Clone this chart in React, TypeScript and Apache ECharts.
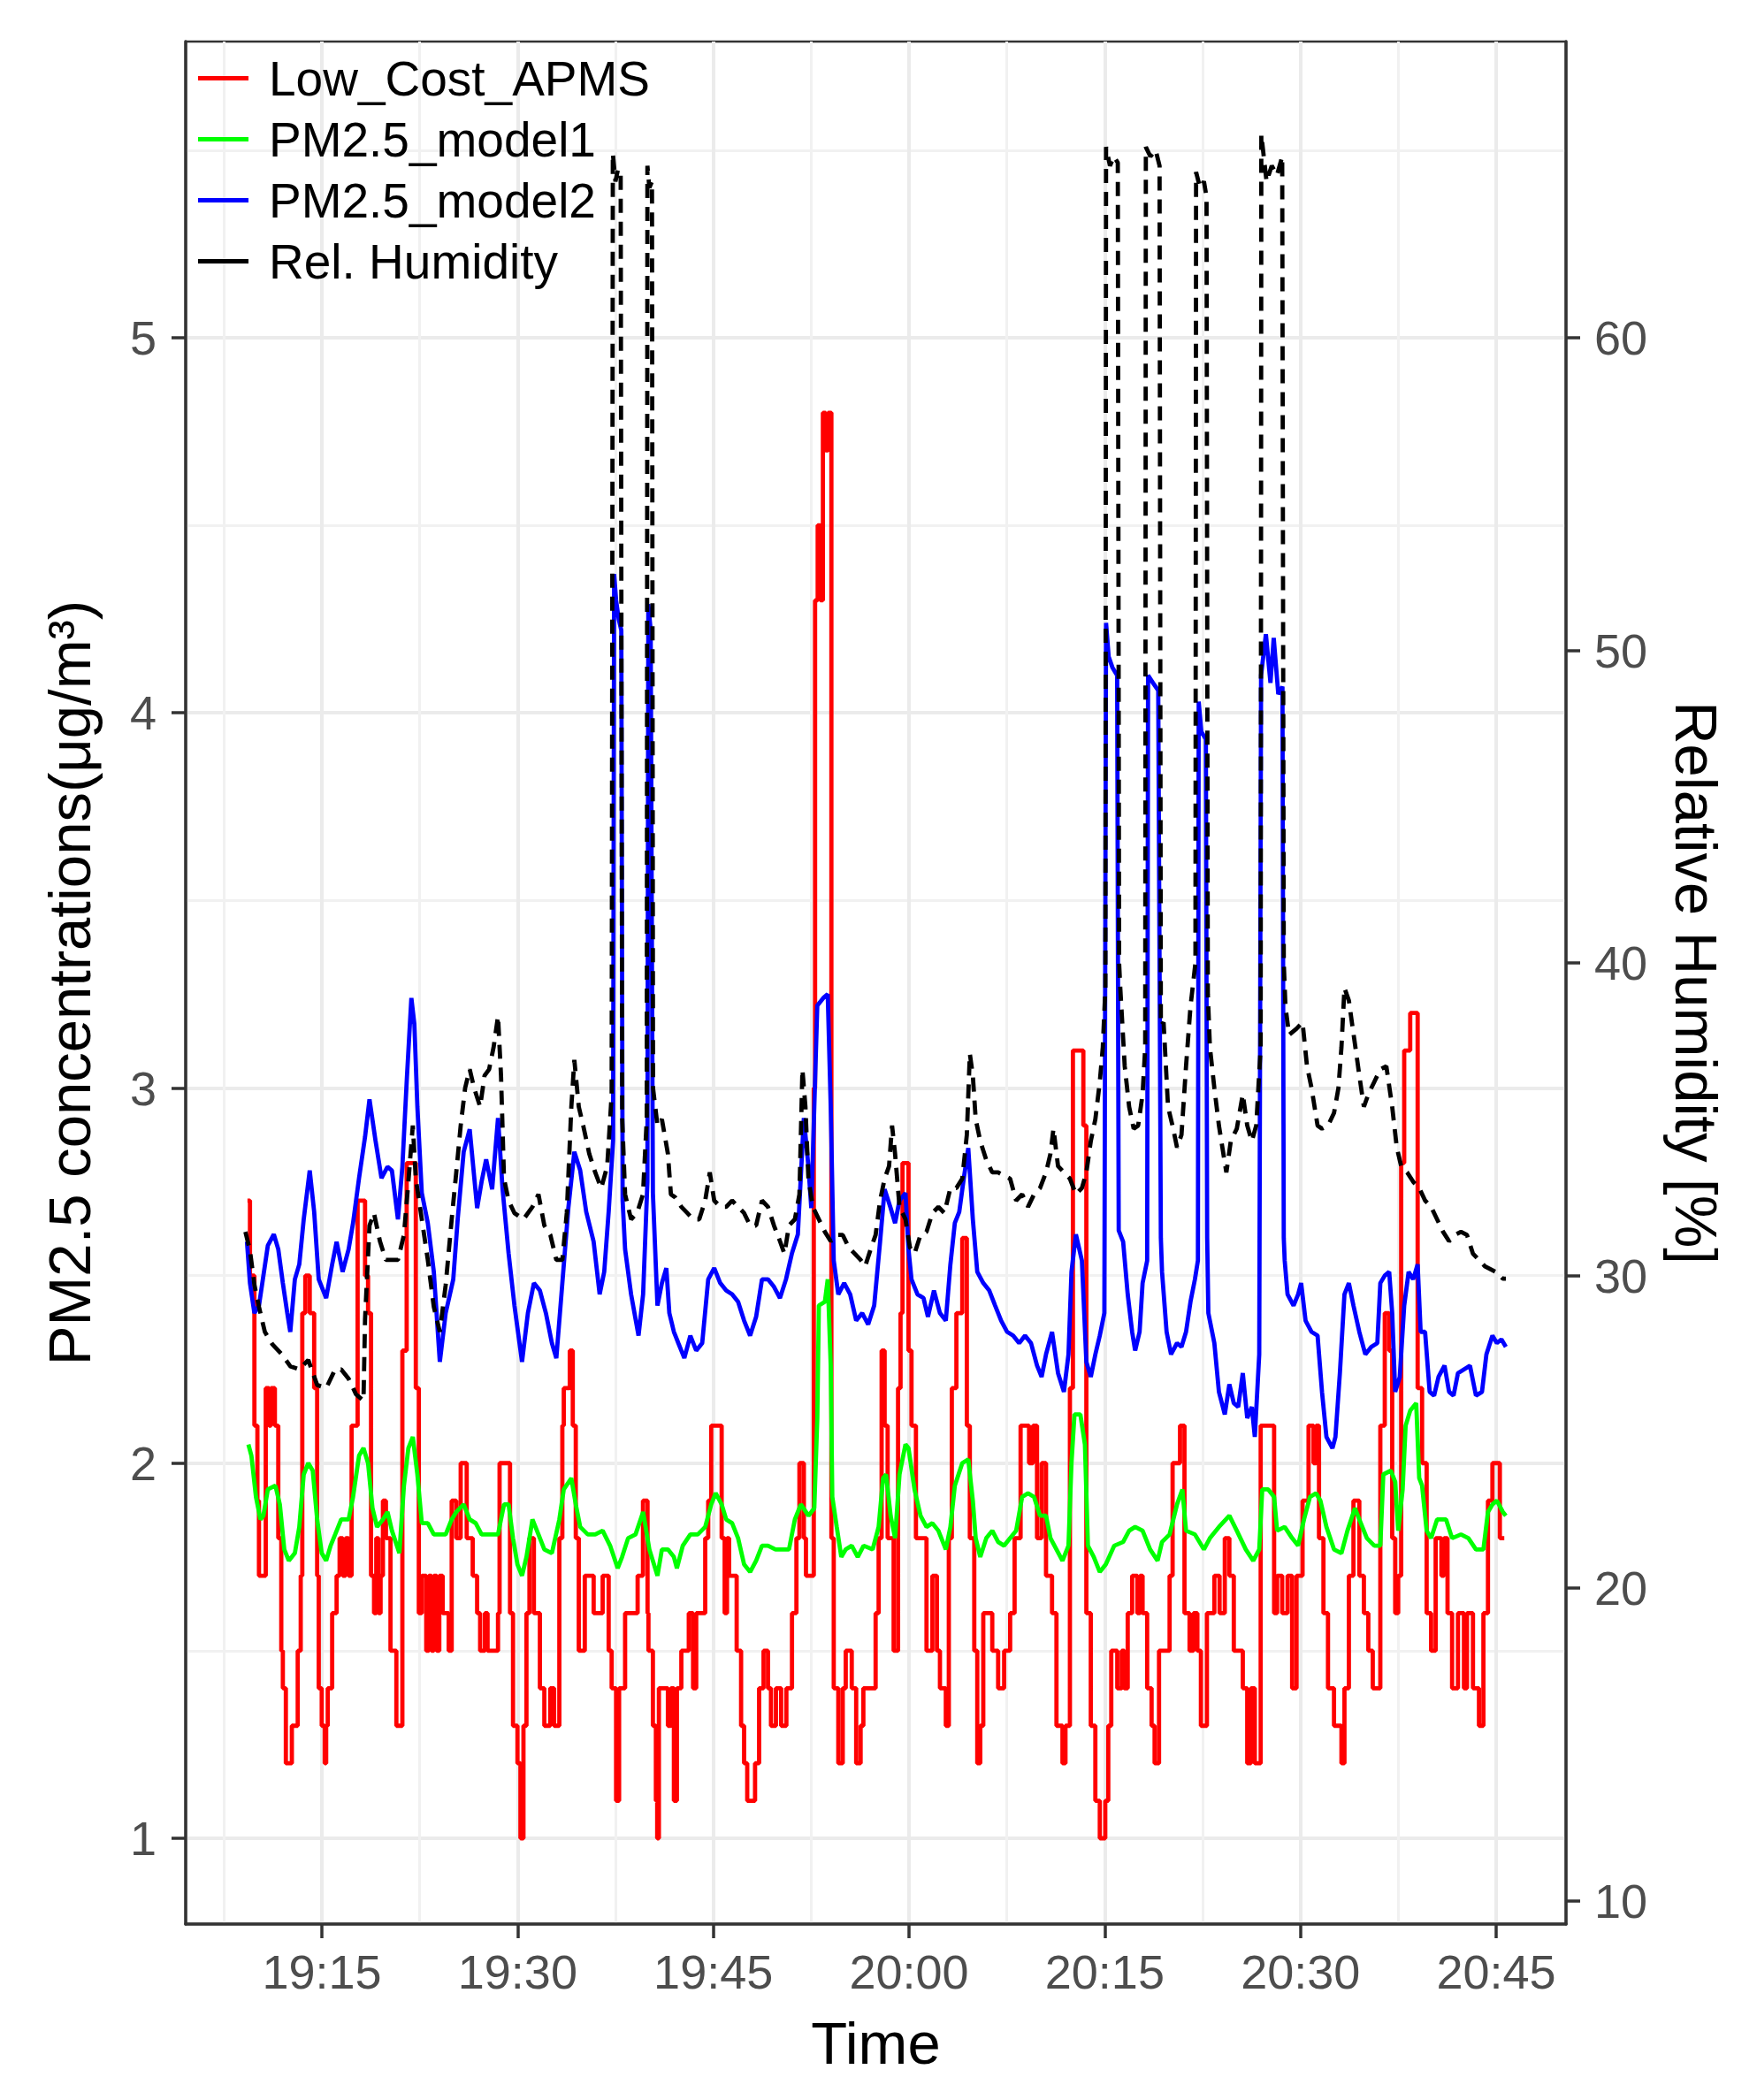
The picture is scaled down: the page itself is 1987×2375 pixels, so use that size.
import React, { useEffect, useRef } from "react";
import * as echarts from "echarts";

// Time is expressed in minutes after 19:00.
const lowCostApms: [number, number][] = [
  [9.3,2.7],[9.49,2.5],[9.83,2.1],[10.06,1.9],[10.18,1.7],[10.7,2.2],[10.95,2.1],[11.1,2.2],[11.4,2.1],[11.66,1.8],[11.89,1.5],[12.01,1.4],[12.24,1.2],[12.7,1.3],[13.15,1.5],[13.38,1.7],[13.5,2.4],[13.73,2.5],[14.07,2.4],[14.41,2.2],[14.64,1.7],[14.76,1.4],[14.99,1.3],[15.22,1.2],[15.33,1.3],[15.45,1.4],[15.79,1.6],[16.13,1.7],[16.36,1.8],[16.6,1.7],[16.82,1.8],[17.05,1.7],[17.28,2.1],[17.74,2.7],[18.31,2.5],[18.54,2.4],[18.77,1.7],[19.0,1.6],[19.17,1.8],[19.34,1.6],[19.5,1.7],[19.68,1.9],[19.91,1.8],[20.26,1.5],[20.71,1.3],[21.17,2.3],[21.5,2.8],[22.2,2.2],[22.43,1.6],[22.66,1.7],[23.0,1.5],[23.2,1.7],[23.4,1.5],[23.58,1.7],[23.8,1.5],[24.0,1.7],[24.26,1.6],[24.72,1.5],[24.95,1.9],[25.3,1.8],[25.64,2.0],[26.1,1.8],[26.56,1.7],[26.9,1.6],[27.13,1.5],[27.5,1.6],[27.7,1.5],[28.5,1.6],[28.62,2.0],[29.42,1.6],[29.65,1.3],[29.99,1.2],[30.22,1.0],[30.45,1.3],[30.68,1.6],[30.91,1.8],[31.25,1.6],[31.71,1.4],[32.05,1.3],[32.5,1.4],[32.8,1.3],[33.2,1.8],[33.43,2.1],[33.54,2.2],[34.0,2.3],[34.23,2.1],[34.46,1.8],[34.69,1.5],[35.15,1.7],[35.83,1.6],[36.52,1.7],[36.98,1.5],[37.21,1.4],[37.55,1.1],[37.78,1.4],[38.24,1.6],[39.2,1.7],[39.61,1.9],[39.96,1.6],[40.03,1.5],[40.37,1.3],[40.6,1.1],[40.7,1.0],[40.83,1.4],[41.52,1.3],[41.75,1.4],[41.98,1.1],[42.21,1.4],[42.55,1.5],[43.12,1.6],[43.45,1.4],[43.69,1.6],[44.38,1.8],[44.61,1.9],[44.84,2.1],[45.64,1.8],[45.87,1.6],[46.05,1.8],[46.21,1.7],[46.79,1.5],[47.13,1.3],[47.36,1.2],[47.6,1.1],[48.2,1.2],[48.51,1.4],[48.85,1.5],[49.19,1.4],[49.42,1.3],[49.8,1.4],[50.2,1.3],[50.6,1.4],[51.03,1.6],[51.37,1.8],[51.6,2.0],[51.94,1.8],[52.1,1.7],[52.7,3.0],[52.8,4.3],[53.0,4.5],[53.2,4.3],[53.4,4.8],[53.6,4.7],[53.8,4.8],[54.05,1.8],[54.23,1.4],[54.58,1.2],[54.92,1.4],[55.15,1.5],[55.61,1.4],[55.95,1.2],[56.29,1.3],[56.5,1.4],[57.44,1.6],[57.67,1.8],[57.9,2.3],[58.13,2.1],[58.36,1.8],[58.82,1.5],[59.16,2.2],[59.35,2.4],[59.5,2.8],[59.96,2.3],[60.19,2.1],[60.53,1.8],[61.34,1.5],[61.79,1.7],[62.14,1.5],[62.37,1.4],[62.82,1.3],[63.05,1.8],[63.28,2.2],[63.63,2.4],[64.08,2.6],[64.43,2.1],[64.66,1.8],[65.0,1.5],[65.23,1.2],[65.46,1.3],[65.69,1.6],[66.38,1.5],[66.83,1.4],[67.29,1.5],[67.75,1.6],[68.09,1.8],[68.55,2.1],[69.2,2.0],[69.5,2.1],[69.81,1.8],[70.16,2.0],[70.5,1.7],[70.96,1.6],[71.3,1.3],[71.76,1.2],[71.99,1.3],[72.33,2.2],[72.56,3.1],[73.36,2.9],[73.59,1.6],[73.93,1.3],[74.28,1.1],[74.62,1.0],[75.04,1.1],[75.27,1.3],[75.5,1.5],[75.96,1.4],[76.3,1.5],[76.5,1.4],[76.76,1.6],[77.1,1.7],[77.5,1.6],[77.7,1.7],[77.9,1.6],[78.25,1.4],[78.59,1.3],[78.82,1.2],[79.16,1.5],[79.97,1.7],[80.2,2.0],[80.77,2.1],[81.11,1.6],[81.5,1.5],[81.8,1.6],[82.1,1.5],[82.37,1.3],[82.83,1.6],[83.4,1.7],[83.8,1.6],[84.2,1.8],[84.55,1.7],[84.89,1.5],[85.58,1.4],[85.92,1.2],[86.2,1.4],[86.5,1.2],[86.95,2.1],[87.98,1.6],[88.21,1.7],[88.6,1.6],[89.01,1.7],[89.36,1.4],[89.7,1.7],[90.16,1.9],[90.62,2.1],[91.0,2.0],[91.2,2.1],[91.42,1.8],[91.76,1.6],[92.11,1.4],[92.57,1.3],[93.14,1.2],[93.37,1.4],[93.71,1.7],[94.06,1.9],[94.51,1.7],[94.86,1.6],[95.2,1.5],[95.54,1.4],[96.12,2.1],[96.46,2.4],[96.8,2.3],[97.03,1.8],[97.26,1.6],[97.49,1.7],[97.72,2.8],[97.95,3.1],[98.41,3.2],[98.98,2.2],[99.32,2.0],[99.67,1.6],[100.01,1.5],[100.36,1.8],[100.8,1.7],[101.0,1.8],[101.27,1.6],[101.62,1.4],[102.07,1.6],[102.53,1.4],[102.76,1.6],[103.22,1.4],[103.68,1.3],[104.02,1.6],[104.37,1.9],[104.71,2.0],[105.28,1.8],[105.62,1.8]
];

const pmModel1: [number, number][] = [
  [9.37,2.05],[9.6,2.02],[9.95,1.91],[10.29,1.85],[10.52,1.86],[10.86,1.93],[11.44,1.94],[11.78,1.89],[12.12,1.77],[12.47,1.74],[12.93,1.76],[13.27,1.83],[13.61,1.97],[13.96,2.0],[14.3,1.98],[14.64,1.85],[14.99,1.76],[15.33,1.74],[15.67,1.78],[16.02,1.81],[16.48,1.85],[17.05,1.85],[17.39,1.91],[17.85,2.02],[18.19,2.04],[18.54,2.0],[18.88,1.88],[19.23,1.83],[19.68,1.85],[20.03,1.87],[20.37,1.82],[20.94,1.76],[21.29,1.94],[21.63,2.04],[21.97,2.07],[22.32,1.97],[22.66,1.84],[23.12,1.84],[23.58,1.81],[24.04,1.81],[24.49,1.81],[24.95,1.85],[25.3,1.87],[25.87,1.89],[26.33,1.85],[26.79,1.84],[27.24,1.81],[27.93,1.81],[28.5,1.81],[28.96,1.89],[29.31,1.89],[29.65,1.8],[29.99,1.73],[30.34,1.7],[30.68,1.75],[31.14,1.85],[31.6,1.81],[32.05,1.77],[32.63,1.76],[33.2,1.85],[33.54,1.93],[34.12,1.96],[34.46,1.89],[34.8,1.83],[35.38,1.81],[35.95,1.81],[36.52,1.82],[37.09,1.78],[37.67,1.72],[38.01,1.75],[38.47,1.8],[39.04,1.81],[39.62,1.87],[40.1,1.77],[40.72,1.7],[41.06,1.77],[41.52,1.77],[41.98,1.75],[42.21,1.72],[42.66,1.78],[43.24,1.81],[43.81,1.81],[44.38,1.83],[44.84,1.89],[45.18,1.92],[45.64,1.89],[45.99,1.85],[46.44,1.84],[46.9,1.8],[47.36,1.73],[47.82,1.71],[48.28,1.74],[48.73,1.78],[49.19,1.78],[49.77,1.77],[50.34,1.77],[50.8,1.77],[51.25,1.85],[51.71,1.89],[52.29,1.86],[52.74,1.88],[52.97,2.12],[53.09,2.42],[53.55,2.43],[53.77,2.49],[54.0,2.26],[54.12,1.91],[54.46,1.83],[54.81,1.75],[55.15,1.77],[55.61,1.78],[56.07,1.75],[56.52,1.78],[57.21,1.77],[57.67,1.83],[58.01,1.96],[58.24,1.97],[58.59,1.86],[58.93,1.8],[59.27,1.97],[59.73,2.05],[59.96,2.04],[60.42,1.93],[60.88,1.86],[61.34,1.83],[61.79,1.84],[62.25,1.82],[62.82,1.77],[63.17,1.83],[63.51,1.94],[64.08,2.0],[64.54,2.01],[64.89,1.9],[65.11,1.8],[65.46,1.75],[65.92,1.8],[66.38,1.82],[66.83,1.79],[67.29,1.78],[67.75,1.8],[68.21,1.82],[68.67,1.91],[69.12,1.92],[69.58,1.91],[70.04,1.86],[70.5,1.86],[70.84,1.8],[71.3,1.77],[71.76,1.74],[72.22,1.78],[72.45,2.0],[72.68,2.13],[73.13,2.13],[73.48,2.05],[73.71,1.78],[74.16,1.75],[74.62,1.71],[75.08,1.73],[75.73,1.78],[76.41,1.79],[76.87,1.82],[77.33,1.83],[77.9,1.82],[78.48,1.77],[79.05,1.74],[79.39,1.79],[79.97,1.81],[80.54,1.89],[80.95,1.93],[81.23,1.82],[81.91,1.81],[82.6,1.77],[83.06,1.8],[83.75,1.83],[84.55,1.86],[85.12,1.82],[85.81,1.77],[86.38,1.74],[86.84,1.77],[87.07,1.93],[87.53,1.93],[87.98,1.91],[88.21,1.82],[88.79,1.83],[89.36,1.8],[89.82,1.78],[90.27,1.85],[90.73,1.91],[91.19,1.92],[91.53,1.9],[91.99,1.83],[92.57,1.77],[93.14,1.76],[93.6,1.82],[94.17,1.88],[94.51,1.85],[95.09,1.8],[95.66,1.78],[96.12,1.78],[96.35,1.97],[96.92,1.98],[97.26,1.95],[97.49,1.82],[97.83,1.93],[98.06,2.1],[98.41,2.14],[98.87,2.16],[99.1,1.96],[99.32,1.94],[99.67,1.82],[100.01,1.8],[100.47,1.85],[101.16,1.85],[101.62,1.8],[102.3,1.81],[102.87,1.8],[103.45,1.77],[104.02,1.77],[104.37,1.87],[104.71,1.89],[105.05,1.9],[105.51,1.87],[105.74,1.86]
];

const pmModel2: [number, number][] = [
  [9.26,2.59],[9.49,2.48],[9.83,2.4],[10.18,2.42],[10.52,2.5],[10.86,2.58],[11.32,2.61],[11.66,2.57],[12.01,2.48],[12.35,2.4],[12.58,2.35],[12.93,2.49],[13.27,2.53],[13.61,2.65],[14.07,2.78],[14.41,2.67],[14.76,2.49],[15.33,2.44],[15.79,2.53],[16.13,2.59],[16.59,2.51],[17.05,2.57],[17.39,2.64],[17.85,2.76],[18.31,2.87],[18.65,2.97],[19.11,2.86],[19.57,2.76],[20.03,2.79],[20.37,2.78],[20.83,2.65],[21.17,2.79],[21.52,3.03],[21.86,3.24],[22.09,3.17],[22.32,2.95],[22.66,2.72],[23.12,2.64],[23.58,2.51],[24.04,2.27],[24.49,2.4],[25.07,2.49],[25.41,2.65],[25.87,2.83],[26.33,2.89],[26.9,2.68],[27.24,2.75],[27.59,2.81],[28.05,2.73],[28.5,2.92],[28.85,2.73],[29.31,2.56],[29.76,2.42],[30.34,2.27],[30.79,2.4],[31.25,2.48],[31.71,2.46],[32.17,2.4],[32.63,2.32],[32.97,2.28],[33.43,2.48],[33.89,2.68],[34.35,2.83],[34.8,2.78],[35.26,2.67],[35.83,2.59],[36.29,2.45],[36.64,2.51],[36.98,2.67],[37.32,2.86],[37.4,4.37],[37.55,4.3],[37.75,4.25],[37.95,4.22],[38.05,2.7],[38.24,2.57],[38.7,2.45],[39.27,2.34],[39.62,2.45],[39.95,2.75],[40.02,4.29],[40.2,4.22],[40.37,2.72],[40.72,2.42],[41.06,2.48],[41.4,2.52],[41.63,2.4],[41.98,2.35],[42.32,2.32],[42.78,2.28],[43.24,2.34],[43.69,2.3],[44.15,2.32],[44.61,2.49],[45.07,2.52],[45.53,2.48],[45.99,2.46],[46.44,2.45],[46.9,2.43],[47.36,2.38],[47.82,2.34],[48.28,2.39],[48.73,2.49],[49.19,2.49],[49.65,2.47],[50.11,2.44],[50.57,2.49],[51.03,2.56],[51.48,2.61],[51.94,2.92],[52.29,2.79],[52.51,2.68],[52.74,2.95],[52.97,3.22],[53.43,3.24],[53.77,3.25],[54.0,2.95],[54.23,2.54],[54.58,2.45],[55.03,2.48],[55.49,2.45],[55.95,2.38],[56.41,2.4],[56.87,2.37],[57.33,2.42],[57.78,2.59],[58.13,2.73],[58.59,2.68],[58.93,2.64],[59.27,2.7],[59.73,2.72],[59.96,2.57],[60.19,2.49],[60.65,2.45],[61.11,2.44],[61.45,2.39],[61.91,2.46],[62.37,2.4],[62.82,2.38],[63.17,2.53],[63.51,2.64],[63.85,2.67],[64.2,2.76],[64.54,2.84],[64.89,2.65],[65.23,2.51],[65.69,2.48],[66.15,2.46],[66.6,2.42],[67.06,2.38],[67.52,2.35],[67.98,2.34],[68.44,2.32],[68.89,2.34],[69.35,2.32],[69.81,2.26],[70.16,2.23],[70.5,2.29],[70.96,2.35],[71.42,2.24],[71.87,2.19],[72.22,2.29],[72.45,2.51],[72.79,2.61],[73.25,2.54],[73.59,2.27],[73.93,2.23],[74.28,2.29],[74.62,2.34],[74.97,2.4],[75.1,4.24],[75.3,4.15],[75.6,4.12],[75.95,4.1],[76.07,2.62],[76.41,2.59],[76.76,2.45],[77.1,2.35],[77.33,2.3],[77.67,2.35],[77.9,2.48],[78.25,2.54],[78.32,4.1],[78.7,4.08],[79.1,4.06],[79.3,2.6],[79.39,2.51],[79.74,2.35],[80.08,2.29],[80.54,2.32],[80.88,2.31],[81.23,2.35],[81.57,2.43],[81.91,2.49],[82.14,2.54],[82.2,4.03],[82.4,3.95],[82.75,3.93],[82.85,2.6],[82.94,2.4],[83.4,2.32],[83.75,2.19],[84.2,2.13],[84.55,2.21],[84.89,2.16],[85.23,2.15],[85.58,2.24],[85.92,2.12],[86.27,2.15],[86.5,2.07],[86.84,2.29],[86.98,4.1],[87.35,4.21],[87.7,4.08],[87.95,4.2],[88.3,4.05],[88.62,4.07],[88.72,2.6],[88.79,2.54],[89.01,2.45],[89.47,2.42],[89.82,2.45],[90.05,2.48],[90.39,2.38],[90.85,2.35],[91.31,2.34],[91.65,2.19],[91.99,2.07],[92.45,2.04],[92.68,2.07],[93.02,2.24],[93.37,2.45],[93.71,2.48],[94.06,2.42],[94.51,2.35],[94.97,2.29],[95.43,2.31],[95.89,2.32],[96.12,2.48],[96.46,2.5],[96.8,2.51],[97.03,2.4],[97.26,2.19],[97.61,2.23],[97.95,2.42],[98.29,2.51],[98.64,2.49],[98.98,2.53],[99.21,2.35],[99.55,2.35],[99.9,2.19],[100.24,2.18],[100.58,2.23],[101.04,2.26],[101.39,2.19],[101.73,2.18],[102.07,2.24],[102.53,2.25],[102.99,2.26],[103.45,2.18],[103.91,2.19],[104.25,2.29],[104.71,2.34],[105.05,2.32],[105.4,2.33],[105.74,2.31]
];

// Relative humidity in %
const relHumidity: [number, number][] = [
  [9.14,31.4],[9.49,30.8],[9.83,29.7],[10.18,29.0],[10.63,28.2],[11.21,27.8],[11.89,27.5],[12.58,27.1],[13.27,27.0],[13.96,27.3],[14.64,26.5],[15.33,26.4],[16.02,27.0],[16.48,27.0],[17.05,26.7],[17.62,26.2],[18.19,26.0],[18.31,28.6],[18.65,31.6],[18.99,32.0],[19.45,31.1],[19.91,30.5],[20.37,30.5],[20.83,30.5],[21.29,31.3],[21.63,33.0],[21.97,34.8],[22.2,33.1],[22.66,31.8],[23.12,30.5],[23.58,29.0],[24.04,28.2],[24.49,29.7],[24.95,31.8],[25.3,33.3],[25.64,34.8],[25.98,36.0],[26.33,36.6],[26.67,36.0],[27.13,35.4],[27.47,36.4],[27.82,36.6],[28.16,37.3],[28.5,38.3],[28.73,36.4],[28.96,33.1],[29.31,32.4],[29.76,32.0],[30.45,31.8],[31.14,32.2],[31.6,32.6],[32.05,31.6],[32.51,31.3],[32.97,30.5],[33.43,30.5],[33.77,32.0],[34.12,35.4],[34.35,36.9],[34.69,35.4],[35.03,34.8],[35.49,33.9],[35.95,33.3],[36.41,32.8],[36.87,33.5],[37.21,35.8],[37.3,65.9],[37.5,65.0],[37.7,65.4],[37.9,65.2],[38.02,35.0],[38.24,32.6],[38.7,31.8],[39.16,32.0],[39.61,32.6],[39.9,35.0],[39.95,65.5],[40.1,64.8],[40.3,65.0],[40.38,36.0],[40.72,34.8],[41.06,35.0],[41.52,33.9],[41.75,32.6],[42.09,32.5],[42.55,32.2],[43.01,32.0],[43.47,31.8],[43.92,31.8],[44.38,32.4],[44.73,33.3],[45.07,32.4],[45.53,32.2],[45.99,32.2],[46.44,32.4],[46.9,32.2],[47.36,32.0],[47.82,31.6],[48.28,31.6],[48.73,32.4],[49.19,32.2],[49.65,31.6],[50.11,31.1],[50.45,30.7],[50.8,31.6],[51.25,31.8],[51.6,32.6],[51.83,36.6],[52.06,35.4],[52.29,33.1],[52.63,32.2],[53.09,31.8],[53.55,31.4],[54.0,31.1],[54.46,31.3],[54.92,31.3],[55.38,30.9],[55.84,30.7],[56.29,30.5],[56.64,30.3],[57.1,30.9],[57.44,31.3],[57.78,32.4],[58.13,33.1],[58.47,33.5],[58.7,34.8],[58.93,33.9],[59.27,32.2],[59.73,31.8],[60.07,30.9],[60.42,30.7],[60.88,31.3],[61.34,31.4],[61.79,32.0],[62.25,32.2],[62.71,32.0],[63.17,32.8],[63.63,32.8],[64.08,33.1],[64.43,34.5],[64.66,37.1],[64.89,36.4],[65.11,35.0],[65.46,34.3],[65.92,33.7],[66.38,33.3],[66.83,33.3],[67.29,33.2],[67.75,33.1],[68.21,32.4],[68.67,32.6],[69.12,32.2],[69.58,32.6],[70.04,32.8],[70.5,33.3],[70.84,33.9],[71.07,34.7],[71.42,33.5],[71.87,33.3],[72.33,33.1],[72.79,32.6],[73.25,32.8],[73.59,33.3],[73.93,34.3],[74.28,35.0],[74.62,36.2],[74.85,37.3],[75.05,39.2],[75.1,66.1],[75.4,65.5],[75.7,65.8],[76.0,65.6],[76.1,40.0],[76.19,39.2],[76.53,36.7],[76.87,35.4],[77.22,34.7],[77.56,34.8],[77.9,35.8],[78.1,37.3],[78.15,66.1],[78.5,65.8],[78.9,66.0],[79.2,65.5],[79.3,38.0],[79.51,38.1],[79.85,35.4],[80.19,34.8],[80.54,34.1],[80.88,34.5],[81.23,36.7],[81.57,38.6],[81.95,40.0],[82.0,65.3],[82.3,64.8],[82.6,65.0],[82.8,64.5],[82.9,39.0],[83.06,37.3],[83.4,36.0],[83.75,34.8],[84.09,33.9],[84.32,33.3],[84.66,34.3],[85.12,34.7],[85.58,35.8],[85.92,34.8],[86.27,34.3],[86.61,34.8],[86.95,37.3],[87.0,66.5],[87.4,65.0],[87.8,65.5],[88.2,65.2],[88.6,65.8],[88.72,40.0],[88.85,38.6],[89.13,37.7],[89.7,37.9],[90.16,38.1],[90.5,36.7],[90.85,36.0],[91.31,34.8],[91.65,34.7],[92.11,34.8],[92.57,35.2],[92.91,36.0],[93.14,37.3],[93.37,39.2],[93.71,38.8],[93.94,38.1],[94.28,37.1],[94.51,36.4],[94.86,35.4],[95.2,35.8],[95.66,36.2],[96.12,36.6],[96.58,36.7],[97.03,35.4],[97.38,34.1],[97.72,33.5],[98.18,33.3],[98.64,33.0],[99.1,32.8],[99.55,32.4],[100.01,32.2],[100.47,31.8],[100.93,31.4],[101.39,31.1],[101.84,31.3],[102.3,31.4],[102.76,31.3],[103.22,30.7],[103.68,30.5],[104.13,30.3],[104.59,30.2],[105.05,30.1],[105.51,29.9],[105.74,29.9]
];

const timeTicks = [15, 30, 45, 60, 75, 90, 105];
const timeMinorTicks = [7.5, 22.5, 37.5, 52.5, 67.5, 82.5, 97.5];
const pmTicks = [1, 2, 3, 4, 5];
const pmMinorTicks = [1.5, 2.5, 3.5, 4.5, 5.5];
const rhTicks = [10, 20, 30, 40, 50, 60];
const seriesNames = ["Low_Cost_APMS", "PM2.5_model1", "PM2.5_model2", "Rel. Humidity"];

const X_MIN = 4.564;
const X_MAX = 110.35;
const PM_MIN = 0.7714;
const PM_MAX = 5.7896;
const RH_PER_PM = 12;

const FONT = "'Liberation Sans', Arial, Helvetica, sans-serif";
const LINE_W = 4.8;

function fmtTime(v: number): string {
  const total = Math.round(v);
  const h = 19 + Math.floor(total / 60);
  const m = total % 60;
  return `${h}:${String(m).padStart(2, "0")}`;
}

export default function App() {
  const ref = useRef<HTMLDivElement>(null);

  useEffect(() => {
    if (!ref.current) return;
    const chart = echarts.init(ref.current, undefined, { renderer: "svg" });
    const axisColor = "#333333";
    const gridMajor = { color: "#EBEBEB", width: 4 };
    const gridMinor = { color: "#F1F1F1", width: 3 };

    const option: any = {
      animation: false,
      backgroundColor: "#ffffff",
      textStyle: { fontFamily: FONT },
      grid: {
        left: 210,
        right: 216,
        top: 47,
        bottom: 199,
        show: true,
        borderColor: axisColor,
        borderWidth: 2.5,
        backgroundColor: "#ffffff",
        containLabel: false,
        outerBoundsMode: "none",
      },
      legend: {
        show: true,
        orient: "vertical",
        left: 224,
        top: 61,
        padding: 0,
        itemGap: 14,
        itemWidth: 57,
        itemHeight: 5,
        icon: "rect",
        selectedMode: false,
        data: seriesNames,
        textStyle: {
          fontFamily: FONT,
          fontSize: 55,
          lineHeight: 55,
          color: "#000000",
          padding: [0, 0, 0, 18],
        },
      },
      xAxis: [
        {
          type: "value",
          min: X_MIN,
          max: X_MAX,
          position: "bottom",
          axisLine: { show: true, onZero: false, lineStyle: { color: axisColor, width: 3.5 } },
          axisTick: { show: true, customValues: timeTicks, length: 16, lineStyle: { color: axisColor, width: 3.5 } },
          axisLabel: {
            customValues: timeTicks,
            formatter: (v: number) => fmtTime(v),
            margin: 27,
            fontSize: 54,
            color: "#4D4D4D",
            fontFamily: FONT,
          },
          splitLine: { show: true, lineStyle: gridMajor },
          name: "Time",
          nameLocation: "middle",
          nameGap: 101,
          nameTextStyle: { fontSize: 67, color: "#000000", fontFamily: FONT },
        },
        {
          type: "value",
          min: X_MIN,
          max: X_MAX,
          position: "bottom",
          axisLine: { show: false },
          axisTick: { show: false, customValues: timeMinorTicks },
          axisLabel: { show: false, customValues: timeMinorTicks },
          splitLine: { show: true, lineStyle: gridMinor },
        },
      ],
      yAxis: [
        {
          type: "value",
          min: PM_MIN,
          max: PM_MAX,
          position: "left",
          axisLine: { show: true, lineStyle: { color: axisColor, width: 3.5 } },
          axisTick: { show: true, customValues: pmTicks, length: 16, lineStyle: { color: axisColor, width: 3.5 } },
          axisLabel: { customValues: pmTicks, margin: 33, fontSize: 54, color: "#4D4D4D", fontFamily: FONT },
          splitLine: { show: true, lineStyle: gridMajor },
          name: "PM2.5 concentrations(μg/m³)",
          nameLocation: "middle",
          nameRotate: 90,
          nameGap: 98,
          nameTextStyle: { fontSize: 67, color: "#000000", fontFamily: FONT },
        },
        {
          type: "value",
          min: PM_MIN * RH_PER_PM,
          max: PM_MAX * RH_PER_PM,
          position: "right",
          axisLine: { show: true, lineStyle: { color: axisColor, width: 3.5 } },
          axisTick: { show: true, customValues: rhTicks, length: 16, lineStyle: { color: axisColor, width: 3.5 } },
          axisLabel: { customValues: rhTicks, margin: 32, fontSize: 54, color: "#4D4D4D", fontFamily: FONT },
          splitLine: { show: false },
          name: "Relative Humidity [%]",
          nameLocation: "middle",
          nameRotate: -90,
          nameGap: 114,
          nameTextStyle: { fontSize: 67, color: "#000000", fontFamily: FONT },
        },
        {
          type: "value",
          min: PM_MIN,
          max: PM_MAX,
          position: "left",
          axisLine: { show: false },
          axisTick: { show: false, customValues: pmMinorTicks },
          axisLabel: { show: false, customValues: pmMinorTicks },
          splitLine: { show: true, lineStyle: gridMinor },
        },
      ],
      series: [
        {
          name: seriesNames[0],
          type: "line",
          xAxisIndex: 0,
          yAxisIndex: 0,
          data: lowCostApms,
          step: "end",
          showSymbol: false,
          symbol: "none",
          itemStyle: { color: "#FF0000" },
          lineStyle: { color: "#FF0000", width: LINE_W },
        },
        {
          name: seriesNames[1],
          type: "line",
          xAxisIndex: 0,
          yAxisIndex: 0,
          data: pmModel1,
          showSymbol: false,
          symbol: "none",
          itemStyle: { color: "#00FF00" },
          lineStyle: { color: "#00FF00", width: LINE_W },
        },
        {
          name: seriesNames[2],
          type: "line",
          xAxisIndex: 0,
          yAxisIndex: 0,
          data: pmModel2,
          showSymbol: false,
          symbol: "none",
          itemStyle: { color: "#0000FF" },
          lineStyle: { color: "#0000FF", width: LINE_W },
        },
        {
          name: seriesNames[3],
          type: "line",
          xAxisIndex: 0,
          yAxisIndex: 1,
          data: relHumidity,
          showSymbol: false,
          symbol: "none",
          itemStyle: { color: "#000000" },
          lineStyle: { color: "#000000", width: LINE_W, type: [16, 10] },
        },
      ],
    };

    chart.setOption(option);
    return () => {
      chart.dispose();
    };
  }, []);

  return (
    <div
      ref={ref}
      style={{ position: "absolute", left: 0, top: 0, width: 1987, height: 2375, background: "#ffffff" }}
    />
  );
}
